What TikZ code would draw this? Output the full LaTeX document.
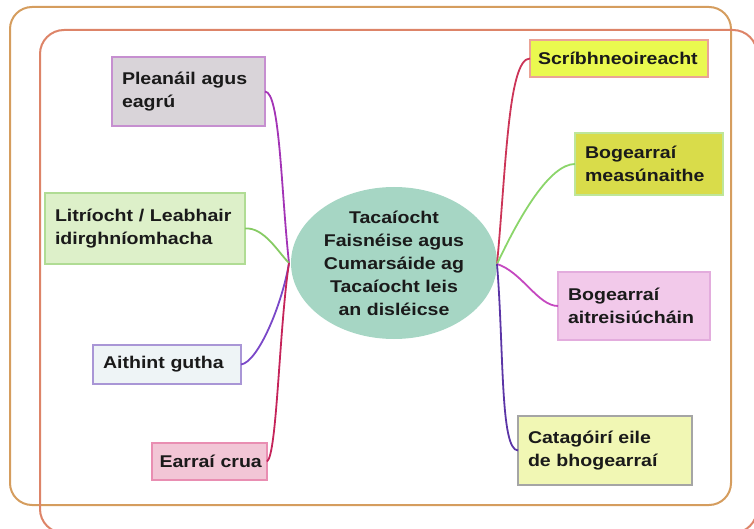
\documentclass[tikz,border=0pt]{standalone}
\usepackage{fontspec}
\setmainfont{Liberation Sans}[FakeStretch=1.15]
\usetikzlibrary{shapes.geometric}
\definecolor{frameO}{HTML}{D59D5E}
\definecolor{frameI}{HTML}{DD8468}
\definecolor{txt}{HTML}{1A1A1A}
\definecolor{lnPlean}{RGB}{163,52,182}
\definecolor{lnLitr}{RGB}{134,203,99}
\definecolor{lnAith}{RGB}{122,72,200}
\definecolor{lnEarr}{RGB}{197,36,90}
\definecolor{lnScri}{RGB}{204,53,88}
\definecolor{lnMeas}{RGB}{139,213,106}
\definecolor{lnAitr}{RGB}{197,72,192}
\definecolor{lnCata}{RGB}{91,53,166}
\begin{document}
\begin{tikzpicture}[x=1pt,y=-1pt,
  box/.style={draw, line width=1.3pt, rectangle, anchor=north west, outer sep=0pt,
    inner xsep=10pt, inner ysep=0pt, align=left,
    font=\bfseries\fontsize{17}{23}\selectfont, text=txt},
  link/.style={line width=1.8pt},
]
\useasboundingbox (0,0) rectangle (754,529);
\clip (0,0) rectangle (754,529);
% frames
\draw[frameO, line width=2pt, rounded corners=22pt] (10,7) rectangle (731,505);
\draw[frameI, line width=2pt, rounded corners=24pt] (40,30) rectangle (757,533);

% central node
\node[ellipse, fill={rgb,255:red,166;green,214;blue,196}, minimum width=206pt, minimum height=152pt,
  inner sep=0pt, align=center, font=\bfseries\fontsize{17}{23}\selectfont, text=txt] (c) at (394,263)
  {Tacaíocht\\Faisnéise agus\\Cumarsáide ag\\Tacaíocht leis\\an disléicse};
\coordinate (hubL) at (289,263);
\coordinate (hubR) at (497,264);

% left boxes
\node[box, fill={rgb,255:red,217;green,212;blue,217}, draw={rgb,255:red,198;green,143;blue,208},
  minimum width=153pt, minimum height=69pt, text width=133pt] (plean) at (112,57) {Pleanáil agus\\eagrú};
\node[box, fill={rgb,255:red,221;green,240;blue,201}, draw={rgb,255:red,176;green,220;blue,148},
  minimum width=200pt, minimum height=71pt, text width=180pt] (litr) at (45,193) {Litríocht / Leabhair\\idirghníomhacha};
\node[box, fill={rgb,255:red,238;green,244;blue,246}, draw={rgb,255:red,169;green,150;blue,214},
  minimum width=148pt, minimum height=39pt, text width=128pt] (aith) at (93,345) {Aithint gutha};
\node[box, fill={rgb,255:red,242;green,198;blue,214}, draw={rgb,255:red,233;green,142;blue,178},
  minimum width=115pt, minimum height=37pt, text width=106pt, inner xsep=4.5pt] (earr) at (152,443) {\hspace*{3pt}Earraí crua};

% right boxes
\node[box, fill={rgb,255:red,234;green,249;blue,79}, draw={rgb,255:red,235;green,163;blue,150},
  minimum width=178pt, minimum height=37pt, text width=162pt, inner xsep=8pt] (scri) at (530,40) {Scríbhneoireacht};
\node[box, fill={rgb,255:red,217;green,220;blue,74}, draw={rgb,255:red,190;green,230;blue,154},
  minimum width=148pt, minimum height=62pt, text width=128pt] (meas) at (575,133) {Bogearraí\\measúnaithe};
\node[box, fill={rgb,255:red,242;green,201;blue,234}, draw={rgb,255:red,227;green,172;blue,221},
  minimum width=152pt, minimum height=68pt, text width=132pt] (aitr) at (558,272) {Bogearraí\\aitreisiúcháin};
\node[box, fill={rgb,255:red,241;green,247;blue,180}, draw={rgb,255:red,165;green,165;blue,165},
  minimum width=174pt, minimum height=69pt, text width=154pt] (cata) at (518,416) {Catagóirí eile\\de bhogearraí};

% connectors left
\draw[link, lnPlean] (plean.east) .. controls (280,92) and (281,190) .. (hubL);
\draw[link, lnLitr] (litr.east) .. controls (264,227) and (278,252) .. (hubL);
\draw[link, lnAith] (aith.east) .. controls (258,362) and (282,305) .. (hubL);
\draw[link, lnEarr] (earr.east) .. controls (277,455) and (279,330) .. (hubL);

% connectors right
\draw[link, lnScri] (hubR) .. controls (506,170) and (508,58) .. (scri.west);
\draw[link, lnMeas] (hubR) .. controls (520,215) and (550,164) .. (meas.west);
\draw[link, lnAitr] (hubR) .. controls (522,272) and (538,306) .. (aitr.west);
\draw[link, lnCata] (hubR) .. controls (504,350) and (500,450) .. (cata.west);
\end{tikzpicture}
\end{document}
